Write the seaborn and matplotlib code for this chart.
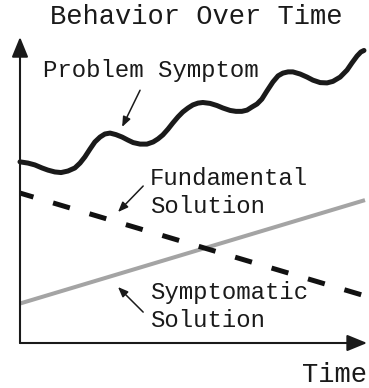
import matplotlib
matplotlib.use('Agg')
import matplotlib.pyplot as plt
import seaborn as sns

# chart values (time 0-100, behaviour 0-100)
wave_time = [0.0, 2.3, 4.3, 6.4, 8.1, 10.1, 11.9, 13.9, 15.9, 17.4, 18.8, 20.3,
             21.7, 23.2, 24.6, 26.1, 27.8, 29.6, 31.3, 32.8, 34.8, 36.8, 38.6,
             40.0, 41.4, 42.9, 44.3, 45.8, 47.2, 48.7, 50.1, 51.6, 53.0, 55.1,
             57.1, 58.8, 60.9, 62.6, 64.3, 65.8, 67.2, 68.7, 70.1, 71.6, 73.3,
             74.8, 76.2, 77.7, 79.1, 81.2, 83.2, 84.9, 87.0, 89.0, 90.7, 92.8,
             94.8, 96.2, 97.7, 98.8, 99.7]
problem_symptom = [59.2, 58.8, 58.2, 57.2, 56.5, 55.9, 55.7, 56.2, 57.2, 58.8, 60.8, 63.4,
                   65.7, 67.3, 68.3, 68.6, 68.1, 67.3, 66.3, 65.5, 65.0, 65.0, 65.7,
                   66.7, 68.0, 69.9, 71.9, 73.9, 75.5, 76.8, 77.8, 78.4, 78.6, 78.3,
                   77.6, 76.8, 76.0, 75.7, 75.7, 76.1, 77.1, 78.1, 79.7, 82.4, 85.3,
                   87.3, 88.2, 88.6, 88.6, 87.9, 86.9, 85.9, 85.1, 85.0, 85.5, 86.9,
                   89.2, 91.5, 93.8, 95.1, 95.6]
line_time = [0, 100]
fundamental = [49.0, 15.4]
symptomatic = [12.9, 46.7]

title = 'Behavior Over Time'
x_label = 'Time'

sns.set_style('white')
plt.rcParams['font.family'] = ['Liberation Mono', 'DejaVu Sans Mono']
ink = '#1a1a1a'

fig = plt.figure(figsize=(3.69, 3.88), dpi=100)
ax = fig.add_axes([20 / 369, 45 / 388, 345 / 369, 306 / 388])
ax.set_xlim(0, 100)
ax.set_ylim(0, 100)
ax.axis('off')

sns.lineplot(x=line_time, y=symptomatic, ax=ax, color='#a4a4a4', linewidth=2.9,
             solid_capstyle='butt', clip_on=False)
sns.lineplot(x=line_time, y=fundamental, ax=ax, color='#111111', linewidth=3.6,
             linestyle=(0.7, (3.5, 4.1)), dash_capstyle='butt', clip_on=False)
sns.lineplot(x=wave_time, y=problem_symptom, ax=ax, color=ink, linewidth=3.6,
             solid_capstyle='round', solid_joinstyle='round', clip_on=False)

# axes with arrow heads
axis_arrow = dict(arrowstyle='-|>,head_length=0.61,head_width=0.25', mutation_scale=20,
                  lw=1.5, color=ink, shrinkA=0, shrinkB=0)
ax.annotate('', xy=(100.6, 0), xytext=(0, 0), arrowprops=axis_arrow, annotation_clip=False)
ax.annotate('', xy=(0, 100), xytext=(0, 0), arrowprops=axis_arrow, annotation_clip=False)

# labels with pointer arrows
pointer = dict(arrowstyle='-|>,head_length=0.5,head_width=0.2', mutation_scale=12,
               lw=1.1, color=ink, shrinkA=0, shrinkB=0)
ax.annotate('', xy=(29.6, 70.6), xytext=(34.8, 82.6), arrowprops=pointer, annotation_clip=False)
ax.annotate('', xy=(28.4, 42.8), xytext=(35.7, 51.3), arrowprops=pointer, annotation_clip=False)
ax.annotate('', xy=(28.4, 18.3), xytext=(35.7, 10.1), arrowprops=pointer, annotation_clip=False)

lab = dict(fontsize=17.3, color=ink, va='baseline', ha='left')
ax.text(6.7, 86.9, 'Problem Symptom', **lab)
ax.text(37.7, 51.6, 'Fundamental', **lab)
ax.text(37.7, 42.5, 'Solution', **lab)
ax.text(37.7, 14.4, 'Symptomatic', **lab)
ax.text(37.7, 5.2, 'Solution', **lab)
ax.text(100.6, -12.7, x_label, fontsize=19.5, color=ink, va='baseline', ha='right',
        clip_on=False)

fig.text(196.5 / 369, 1 - 24 / 388, title, fontsize=19.5, color=ink,
         ha='center', va='baseline')

fig.savefig('out.png', dpi=100, facecolor='white')
